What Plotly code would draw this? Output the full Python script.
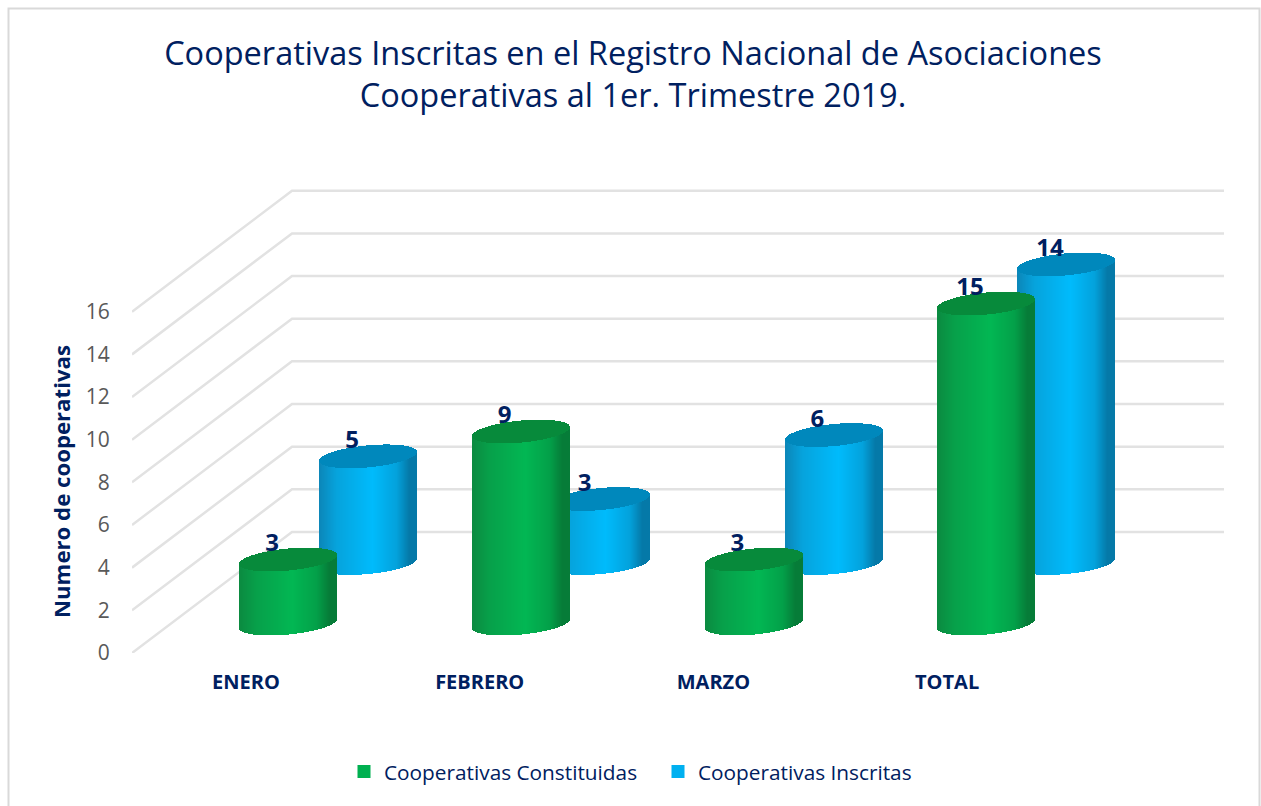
import math
import plotly.graph_objects as go

# ---- data ----
categories = ["ENERO", "FEBRERO", "MARZO", "TOTAL"]
constituidas = [3, 9, 3, 15]
inscritas = [5, 3, 6, 14]
y_ticks = [0, 2, 4, 6, 8, 10, 12, 14, 16]
title_text = ("Cooperativas Inscritas en el Registro Nacional de Asociaciones<br>"
              "Cooperativas al 1er. Trimestre 2019.")
y_title = "Numero de cooperativas"

# ---- page geometry ----
W, H = 1261, 806
L, R, T, B = 132, 1224, 188, 653
PX_X = 232.7       # pixels per category
PX_Y = 21.33       # pixels per value unit
X0 = 246           # pixel of first category tick
TICK_STEP = 233.7  # pixels between category labels
NAVY = "#002060"
FONT = "Open Sans"

def dx(p):
    return p / PX_X

def dy(p):
    return p / PX_Y

x_range = [dx(L - X0), dx(R - X0)]
y_range = [0, dy(B - T)]

# perspective: wall offset and cylinder placement
WALL_DX, WALL_DY = 160, 121
RADIUS = 48.5
ELL_B, ELL_S = 11, 4.5
GREEN_DX, GREEN_DY = 42.5, 29.5
BLUE_DX, BLUE_DY = 122.5, 90

GREEN_STOPS = [(0, "#0B8A40"), (0.18, "#07A04A"), (0.55, "#02B753"),
               (0.8, "#03A049"), (0.93, "#067C38"), (1, "#067C38")]
BLUE_STOPS = [(0, "#0C86B8"), (0.18, "#06A3DC"), (0.55, "#00BBFC"),
              (0.8, "#03A2DC"), (0.93, "#0579A8"), (1, "#0579A8")]
GREEN_CAP = "#078A3B"
BLUE_CAP = "#0088BC"


def mix(stops, t):
    for (t0, c0), (t1, c1) in zip(stops, stops[1:]):
        if t <= t1:
            f = 0 if t1 == t0 else (t - t0) / (t1 - t0)
            a = [int(c0[i:i + 2], 16) for i in (1, 3, 5)]
            b = [int(c1[i:i + 2], 16) for i in (1, 3, 5)]
            return "rgb(%d,%d,%d)" % tuple(round(p + (q - p) * f) for p, q in zip(a, b))
    return stops[-1][1]


def cylinder_traces(values, off_x, off_y, stops, cap):
    bx, by, bb, bc = [], [], [], []
    cx, cy, cb = [], [], []
    n = int(2 * RADIUS)
    for i, v in enumerate(values):
        for k in range(n):
            u = (k + 0.5) / n * 2 - 1
            px = off_x + RADIUS * u
            slant = -ELL_S * u
            bulge = ELL_B * math.sqrt(1 - u * u)
            bottom = dy(off_y - slant - bulge)
            top_front = v + dy(off_y - slant - bulge)
            top_back = v + dy(off_y - slant + bulge)
            x = i + dx(px)
            bx.append(x); bb.append(bottom); by.append(top_front - bottom)
            bc.append(mix(stops, (u + 1) / 2))
            cx.append(x); cb.append(top_front); cy.append(top_back - top_front)
    width = dx(1.25)
    common = dict(width=width, showlegend=False, hoverinfo="skip",
                  marker_line_width=0)
    return [go.Bar(x=bx, y=by, base=bb, marker_color=bc, **common),
            go.Bar(x=cx, y=cy, base=cb, marker_color=cap, **common)]


fig = go.Figure()

# blue row sits behind the green row
fig.add_traces(cylinder_traces(inscritas, BLUE_DX, BLUE_DY, BLUE_STOPS, BLUE_CAP))
fig.add_traces(cylinder_traces(constituidas, GREEN_DX, GREEN_DY, GREEN_STOPS, GREEN_CAP))

# data labels
LBL_DX, LBL_DY = -16.5, 14.5
for vals, ox, oy in ((inscritas, BLUE_DX, BLUE_DY), (constituidas, GREEN_DX, GREEN_DY)):
    fig.add_trace(go.Scatter(
        x=[i + dx(ox + LBL_DX) for i in range(len(vals))],
        y=[v + dy(oy + LBL_DY) for v in vals],
        text=[str(v) for v in vals],
        mode="text", textposition="middle center",
        textfont=dict(family=FONT, size=24, color=NAVY, weight="bold"),
        showlegend=False, hoverinfo="skip"))

# legend entries
for name, col in (("Cooperativas Constituidas", "#00B050"), ("Cooperativas Inscritas", "#00B0F0")):
    fig.add_trace(go.Scatter(x=[None], y=[None], name=name, mode="markers",
                             marker=dict(symbol="square", size=13, color=col)))

# skewed wall / side grid
shapes = []
x_left = dx(L - X0)
x_back = dx(L + WALL_DX - X0)
x_right = dx(R - X0)
for v in y_ticks:
    shapes.append(dict(
        type="path", xref="x", yref="y", layer="below",
        path=f"M {x_left} {v} L {x_back} {v + dy(WALL_DY)} L {x_right} {v + dy(WALL_DY)}",
        line=dict(color="#E2E2E2", width=2.5)))

# outer frame (its bottom edge falls below the page)
pw, ph = R - L, B - T
shapes.append(dict(
    type="rect", xref="paper", yref="paper", layer="below",
    x0=(8.5 - L) / pw, x1=(1259.5 - L) / pw,
    y0=(B - 815) / ph, y1=(B - 8.5) / ph,
    line=dict(color="#D9D9D9", width=2), fillcolor="rgba(0,0,0,0)"))

fig.update_layout(
    width=W, height=H, autosize=False,
    margin=dict(l=L, r=W - R, t=T, b=H - B, pad=0),
    paper_bgcolor="white", plot_bgcolor="rgba(0,0,0,0)",
    barmode="overlay", bargap=0,
    font=dict(family=FONT, color=NAVY),
    title=dict(text=title_text, x=633 / W, xanchor="center", xref="container",
               y=1 - 64.5 / H, yanchor="middle", yref="container",
               font=dict(family=FONT, size=32.5, color=NAVY)),
    shapes=shapes,
    xaxis=dict(range=x_range, tickmode="array",
               tickvals=[dx(i * TICK_STEP) for i in range(len(categories))],
               ticktext=categories, showgrid=False, zeroline=False, showline=False,
               ticks="outside", ticklen=11, tickcolor="rgba(0,0,0,0)",
               tickfont=dict(family=FONT, size=20, color=NAVY, weight="bold"),
               fixedrange=True),
    yaxis=dict(range=y_range, tickmode="array", tickvals=y_ticks,
               showgrid=False, zeroline=False, showline=False,
               ticks="outside", ticklen=17, tickcolor="rgba(0,0,0,0)",
               tickfont=dict(family=FONT, size=21, color="#595959"),
               fixedrange=True),
    legend=dict(orientation="h", x=(344 - L) / pw, xanchor="left",
                y=(B - 772) / ph, yanchor="middle",
                font=dict(family=FONT, size=20.8, color=NAVY),
                itemwidth=30, entrywidth=269, entrywidthmode="pixels",
                bgcolor="rgba(0,0,0,0)"),
    annotations=[dict(text=y_title, textangle=-90, showarrow=False,
                      xref="paper", yref="paper",
                      x=(61 - L) / pw, y=(B - 482) / ph,
                      xanchor="center", yanchor="middle",
                      font=dict(family=FONT, size=22.2, color=NAVY, weight="bold"))],
)

fig.write_html("out.html", config={"displayModeBar": False},
               post_script="document.body.style.margin='0';document.body.style.overflow='hidden';")
